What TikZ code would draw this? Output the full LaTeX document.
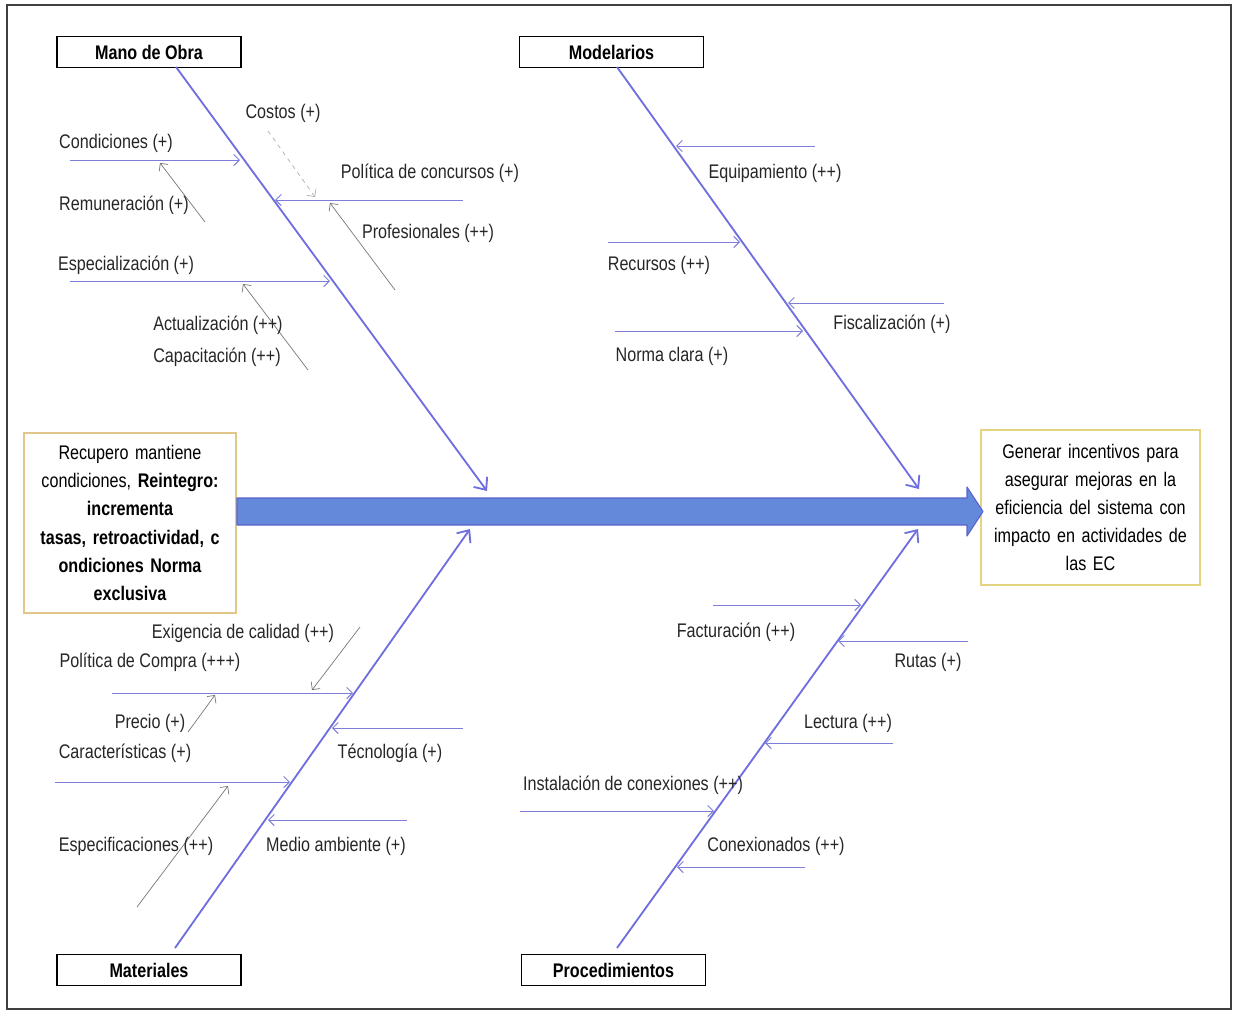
\documentclass[tikz,border=0pt]{standalone}
\usepackage{fontspec}
\setmainfont[FakeStretch=0.82]{Liberation Sans}
\usetikzlibrary{positioning,arrows.meta}
\definecolor{bonecol}{RGB}{110,110,222}
\definecolor{branchcol}{RGB}{125,125,218}
\definecolor{twigcol}{RGB}{118,118,118}
\definecolor{spinefill}{RGB}{100,136,218}
\definecolor{spinedraw}{RGB}{92,98,206}
\definecolor{tanline}{RGB}{226,198,138}
\definecolor{yellowline}{RGB}{228,212,130}
\tikzstyle{category} = [rectangle, draw=black, line width=1.1pt, minimum width=4.6cm, minimum height=0.78cm, inner sep=0pt, font=\fontsize{14}{20}\selectfont\bfseries]
\tikzstyle{problem} = [rectangle, draw=tanline, line width=1.3pt, minimum width=5.3cm, minimum height=4.5cm, align=center, text width=5cm, font=\fontsize{14}{20}\selectfont\bfseries]
\tikzstyle{effect} = [rectangle, draw=yellowline, line width=1.3pt, minimum width=5.475cm, minimum height=3.875cm, align=center, text width=5.2cm]
\tikzstyle{lbl} = [inner sep=0pt, text=black!85]
\tikzstyle{spine} = [draw=spinedraw, fill=spinefill, line width=0.8pt, line join=round]
\tikzstyle{bone} = [draw=bonecol, line width=1.3pt, -{Straight Barb[length=7pt,width=12pt]}]
\tikzstyle{branch} = [draw=branchcol, line width=0.7pt, -{Straight Barb[length=4pt,width=8pt]}]
\tikzstyle{twig} = [draw=twigcol, line width=0.5pt, -{Straight Barb[length=4pt,width=8pt]}]

\begin{document}
\begin{tikzpicture}[x=0.025cm, y=-0.025cm, font=\fontsize{14}{20}\selectfont]
		\useasboundingbox (0,0) rectangle (1239,1013);
		\draw [black!75, line width=1pt] (7,5) rectangle (1231,1009);

		\node (mano) [category] at (149,52) {Mano de Obra};
		\node (model) [category] at (611.5,52) {Modelarios};
		\node (mater) [category] at (149,970) {Materiales};
		\node (proced) [category] at (613.5,970) {Procedimientos};

		\node (causa) [problem] at (130,523) {\mdseries Recupero mantiene\\ \mdseries condiciones, \bfseries Reintegro:\\ incrementa\\ tasas, retroactividad, c\\ ondiciones Norma\\ exclusiva};
		\node (efecto) [effect] at (1090.5,507.5) {Generar incentivos para\\ asegurar mejoras en la\\ eficiencia del sistema con\\ impacto en actividades de\\ las EC};

		\draw [spine] (causa.east |- 0,498) -- (967,498) -- (967,487) -- (983,511.5) -- (967,536) -- (967,525) -- (causa.east |- 0,525) -- cycle;

		\coordinate (mo0) at (176,67);
		\coordinate (mo1) at (487,491);
		\coordinate (md0) at (617,67);
		\coordinate (md1) at (919,489);
		\coordinate (mt0) at (175,948);
		\coordinate (mt1) at (470,529);
		\coordinate (pd0) at (617,948);
		\coordinate (pd1) at (918,529);

		\draw [bone] (mo0) -- (mo1);
		\draw [bone] (md0) -- (md1);
		\draw [bone] (mt0) -- (mt1);
		\draw [bone] (pd0) -- (pd1);

		\coordinate (c0) at (70,160);
		\coordinate (c1) at (240,160);
		\coordinate (r0) at (205,222);
		\coordinate (r1) at (160,163);
		\coordinate (k0) at (268,131);
		\coordinate (k1) at (315,197);
		\coordinate (p0) at (463,200);
		\coordinate (p1) at (275,200);
		\coordinate (f0) at (395,290);
		\coordinate (f1) at (330,203);
		\coordinate (e0) at (70,281);
		\coordinate (e1) at (330,281);
		\coordinate (a0) at (308,370);
		\coordinate (a1) at (243,284);

		\draw [branch] (c0) -- (c1);
		\draw [twig] (r0) -- (r1);
		\draw [twig, dashed, draw=twigcol!60] (k0) -- (k1);
		\draw [branch] (p0) -- (p1);
		\draw [twig] (f0) -- (f1);
		\draw [branch] (e0) -- (e1);
		\draw [twig] (a0) -- (a1);

		\node (lcond) [lbl] at (116,143) {Condiciones (+)};
		\node (lremu) [lbl] at (124,205) {Remuneración (+)};
		\node (lcost) [lbl] at (283,113) {Costos (+)};
		\node (lpcon) [lbl] at (430,173) {Política de concursos (+)};
		\node (lprof) [lbl] at (428,233) {Profesionales (++)};
		\node (lespe) [lbl] at (126,265) {Especialización (+)};
		\node (lactu) [lbl] at (218,325) {Actualización (++)};
		\node (lcapa) [lbl] at (217,357) {Capacitación (++)};

		\coordinate (eq0) at (815,146);
		\coordinate (eq1) at (676,146);
		\coordinate (rc0) at (608,242);
		\coordinate (rc1) at (740,242);
		\coordinate (fs0) at (944,303);
		\coordinate (fs1) at (788,303);
		\coordinate (nc0) at (615,331);
		\coordinate (nc1) at (803,331);

		\draw [branch] (eq0) -- (eq1);
		\draw [branch] (rc0) -- (rc1);
		\draw [branch] (fs0) -- (fs1);
		\draw [branch] (nc0) -- (nc1);

		\node (lequi) [lbl] at (775,173) {Equipamiento (++)};
		\node (lrecu) [lbl] at (659,265) {Recursos (++)};
		\node (lfisc) [lbl] at (892,324) {Fiscalización (+)};
		\node (lnorm) [lbl] at (672,356) {Norma clara (+)};

		\coordinate (xg0) at (360,627);
		\coordinate (xg1) at (312,690);
		\coordinate (pc0) at (112,693);
		\coordinate (pc1) at (353,693);
		\coordinate (pr0) at (188,732);
		\coordinate (pr1) at (215,695);
		\coordinate (tc0) at (463,728);
		\coordinate (tc1) at (332,728);
		\coordinate (ca0) at (55,782);
		\coordinate (ca1) at (290,782);
		\coordinate (sp0) at (137,907);
		\coordinate (sp1) at (228,786);
		\coordinate (ma0) at (407,820);
		\coordinate (ma1) at (268,820);

		\draw [twig] (xg0) -- (xg1);
		\draw [branch] (pc0) -- (pc1);
		\draw [twig] (pr0) -- (pr1);
		\draw [branch] (tc0) -- (tc1);
		\draw [branch] (ca0) -- (ca1);
		\draw [twig] (sp0) -- (sp1);
		\draw [branch] (ma0) -- (ma1);

		\node (lexig) [lbl] at (243,633) {Exigencia de calidad (++)};
		\node (lpcom) [lbl] at (150,662) {Política de Compra (+++)};
		\node (lprec) [lbl] at (150,723) {Precio (+)};
		\node (lcara) [lbl] at (125,753) {Características (+)};
		\node (ltecn) [lbl] at (390,753) {Técnología (+)};
		\node (lespc) [lbl] at (136,846) {Especificaciones (++)};
		\node (lmedi) [lbl] at (336,846) {Medio ambiente (+)};

		\coordinate (fa0) at (713,605);
		\coordinate (fa1) at (861,605);
		\coordinate (ru0) at (968,641);
		\coordinate (ru1) at (838,641);
		\coordinate (le0) at (893,743);
		\coordinate (le1) at (765,743);
		\coordinate (in0) at (520,811);
		\coordinate (in1) at (714,811);
		\coordinate (cx0) at (805,867);
		\coordinate (cx1) at (677,867);

		\draw [branch] (fa0) -- (fa1);
		\draw [branch] (ru0) -- (ru1);
		\draw [branch] (le0) -- (le1);
		\draw [branch] (in0) -- (in1);
		\draw [branch] (cx0) -- (cx1);

		\node (lfact) [lbl] at (736,632) {Facturación (++)};
		\node (lruta) [lbl] at (928,662) {Rutas (+)};
		\node (llect) [lbl] at (848,723) {Lectura (++)};
		\node (linst) [lbl] at (633,785) {Instalación de conexiones (++)};
		\node (lconx) [lbl] at (776,846) {Conexionados (++)};
	\end{tikzpicture}
\end{document}
